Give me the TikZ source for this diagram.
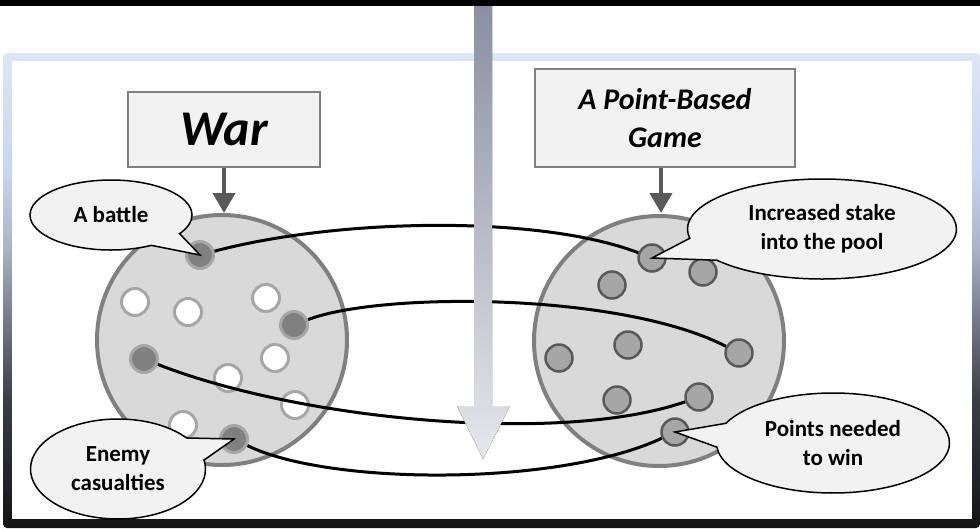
\documentclass[tikz,border=0pt]{standalone}
\usepackage{fontspec}
\setmainfont{Carlito}
\usepackage{tikz}
\usetikzlibrary{
  arrows.meta,
  positioning,
  shapes.callouts
}
\usepackage{xcolor}
\definecolor{poolFill}{RGB}{217,217,217}
\definecolor{poolDraw}{RGB}{128,128,128}
\definecolor{ringGray}{RGB}{166,166,166}
\definecolor{tokenDraw}{RGB}{89,89,89}
\definecolor{boxFill}{RGB}{242,242,242}
\definecolor{frameTop}{RGB}{222,230,245}
\definecolor{frameBlue}{RGB}{200,213,240}
\definecolor{frameGray}{RGB}{170,180,200}
\definecolor{frameMid}{RGB}{110,115,130}
\definecolor{frameDark}{RGB}{60,62,70}
\definecolor{frameBot}{RGB}{20,20,20}
\definecolor{shaftTop}{RGB}{138,144,162}
\definecolor{shaftBot}{RGB}{230,231,235}
\pgfdeclareverticalshading{frameshade}{100bp}{
  color(0bp)=(frameBot); color(25bp)=(frameBot); color(38.5bp)=(frameDark);
  color(46bp)=(frameMid); color(54.5bp)=(frameGray); color(62.5bp)=(frameBlue);
  color(75bp)=(frameTop); color(100bp)=(frameTop)
}
\tikzset{
  pool/.style={
    circle,
    fill=poolFill,
    draw=poolDraw,
    line width=4pt,
    inner sep=0pt,
    minimum size=250pt
  },
  deadDot/.style={circle, fill=poolDraw, draw=ringGray, line width=3pt,
    inner sep=0pt, minimum size=27pt},
  freeDot/.style={deadDot, fill=white},
  token/.style={deadDot, fill=ringGray, draw=tokenDraw, line width=2.5pt},
  titlebox/.style={
    rectangle,
    fill=boxFill,
    draw=poolDraw,
    line width=2pt,
    inner sep=0pt,
    align=center
  },
  bubble/.style={
    ellipse callout,
    fill=boxFill,
    draw=black,
    line width=1.5pt,
    inner sep=0pt,
    callout pointer arc=28,
    align=center,
    font=\fontsize{23}{29}\selectfont\bfseries
  }
}

\begin{document}
\begin{tikzpicture}[
      x=1pt, y=-1pt,
      feed/.style={draw=tokenDraw, line width=4pt,
        -{Triangle[width=22pt,length=20pt]}},
      link/.style={draw=black, line width=3pt}
      ]
      \useasboundingbox (0,0) rectangle (980,528);

      % frame and top rule
      \shade[shading=frameshade, rounded corners=4pt] (3,53) rectangle (980,528);
      \fill[white] (12,61) rectangle (972,519);
      \fill[black] (0,0) rectangle (980,6);

      \node[pool] (warpool) at (222,340) {};
      \node[pool] (gamepool) at (659,341) {};

      \node[titlebox, minimum width=192pt, minimum height=75pt,
        font=\fontsize{50}{60}\selectfont\bfseries\itshape] (warbox) at (224,129.5) {War};
      \node[titlebox, minimum width=260pt, minimum height=98pt,
        font=\fontsize{30}{38}\selectfont\bfseries\itshape] (gamebox) at (665,118)
        {A Point-Based\\Game};
      \draw[feed] (warbox) -- (warbox |- warpool.north);
      \draw[feed] (gamebox.south -| 661,0) -- (661,213);

      \foreach \x/\y [count=\i] in {135/302,188/312,266/298,275/358,228/378,295/405,183/425}{
        \node[freeDot] (free\i) at (\x,\y) {};
      }
      \node[deadDot] (war1) at (200,255) {};
      \node[deadDot] (war2) at (294,325) {};
      \node[deadDot] (war3) at (144,359) {};
      \node[deadDot] (war4) at (234,439) {};

      \foreach \x/\y [count=\i] in {703/272,612/285,628/345,559/358,617/400}{
        \node[token] (spare\i) at (\x,\y) {};
      }
      \node[token] (game1) at (652,258) {};
      \node[token] (game2) at (739,353) {};
      \node[token] (game3) at (699,397) {};
      \node[token] (game4) at (675,432) {};

      \draw[link] (war1) .. controls +(140,-37) and +(-112,-43) .. (game1);
      \draw[link] (war2) .. controls +(86,-33) and +(-119,-61) .. (game2);
      \draw[link] (war3) .. controls +(156,61) and +(-139,48) .. (game3);
      \draw[link] (war4) .. controls +(96,47) and +(-115,54) .. (game4);

      % big downward arrow
      \fill[top color=shaftTop, bottom color=shaftBot]
        (474,6) -- (492,6) -- (492,406) -- (510,406) -- (483,459)
        -- (457,406) -- (474,406) -- cycle;

      \node[bubble, minimum width=162pt, minimum height=70pt,
        callout absolute pointer={(war1.center)}] (battle) at (111,215) {A battle};
      \node[bubble, minimum width=175pt, minimum height=100pt,
        callout absolute pointer={(war4.center)}] (losses) at (118,469) {Enemy\\casualties};
      \node[bubble, minimum width=269pt, minimum height=100pt,
        callout absolute pointer={(game1.center)}] (stake) at (822,229)
        {Increased stake\\into the pool};
      \node[bubble, minimum width=233pt, minimum height=100pt,
        callout absolute pointer={(game4.center)}] (target) at (833,443)
        {Points needed\\to win};
    \end{tikzpicture}
\end{document}
